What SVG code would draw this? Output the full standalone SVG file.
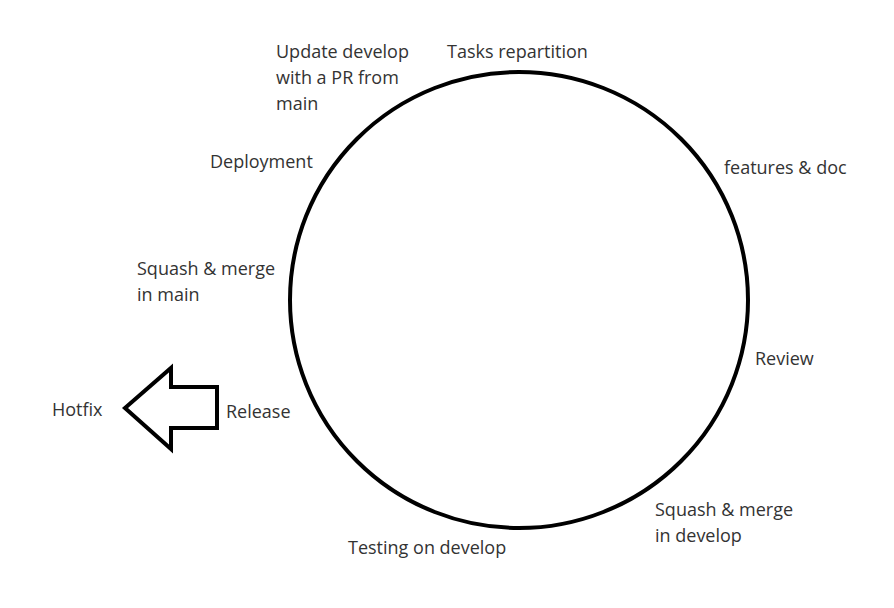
<svg xmlns="http://www.w3.org/2000/svg" width="894" height="608" viewBox="0 0 894 608">
<style>
.t{font-family:"Open Sans","Noto Sans","Liberation Sans",sans-serif;font-size:18px;fill:#333}
.s{fill:none;stroke:#000;stroke-width:4;stroke-linejoin:miter}
</style>
<rect width="894" height="608" fill="#fff"/>
<g id="cycle"><ellipse class="s" cx="519" cy="300" rx="229" ry="228"/></g>
<g id="connectors"><polygon id="hotfix-arrow" class="s" points="125,408 171,368 171,387 217,387 217,428 171,428 171,449"/></g>
<g id="update"><text class="t" x="276" y="58">Update develop</text><text class="t" x="276" y="84">with a PR from</text><text class="t" x="276" y="110">main</text></g>
<g id="tasks"><text class="t" x="447" y="58">Tasks repartition</text></g>
<g id="deployment"><text class="t" x="210" y="168">Deployment</text></g>
<g id="features"><text class="t" x="724" y="174">features &amp; doc</text></g>
<g id="squash-main"><text class="t" x="137" y="275">Squash &amp; merge</text><text class="t" x="137" y="301">in main</text></g>
<g id="review"><text class="t" x="755" y="365">Review</text></g>
<g id="hotfix"><text class="t" x="52" y="416">Hotfix</text></g>
<g id="release"><text class="t" x="226" y="418">Release</text></g>
<g id="squash-develop"><text class="t" x="655" y="516">Squash &amp; merge</text><text class="t" x="655" y="542">in develop</text></g>
<g id="testing"><text class="t" x="348" y="554">Testing on develop</text></g>
</svg>
